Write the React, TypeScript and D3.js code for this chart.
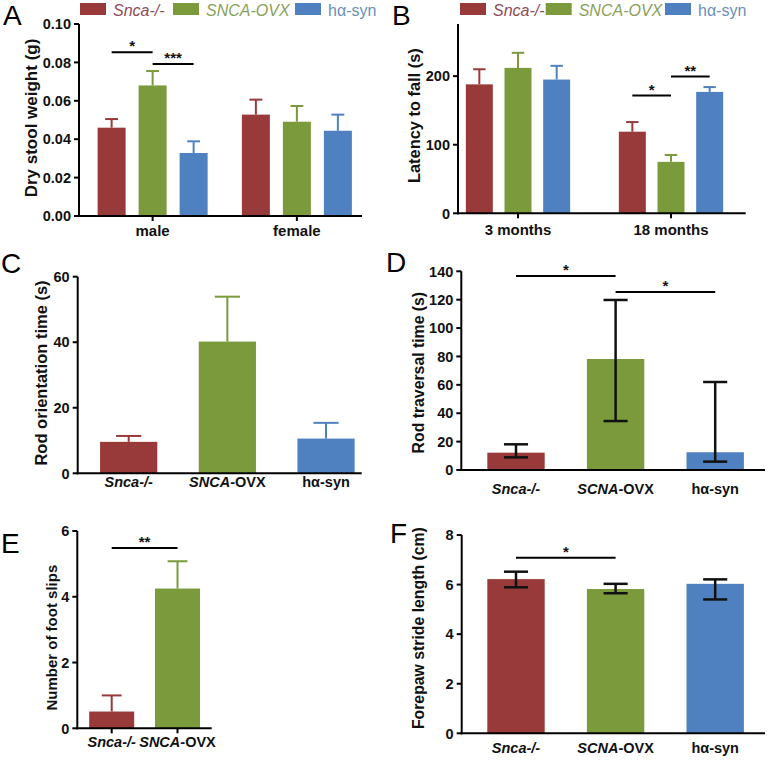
import React from "react";
import * as d3 from "d3";

// ---------- DATA ----------
const seriesNames = ["Snca-/-", "SNCA-OVX", "hα-syn"];

// Panel A: dry stool weight (g)
const sexGroups = ["male", "female"];
const stoolSnca = [0.046, 0.0528];
const stoolOvx = [0.068, 0.0491];
const stoolHsyn = [0.0328, 0.0444];
const stoolSncaErr = [0.0045, 0.0078];
const stoolOvxErr = [0.0075, 0.0082];
const stoolHsynErr = [0.0061, 0.0084];
const stoolTicks = [0, 0.02, 0.04, 0.06, 0.08, 0.1];
const stoolSig = [
  { from: 0, to: 1, y: 0.0853, label: "*" },
  { from: 1, to: 2, y: 0.0792, label: "***" },
];

// Panel B: latency to fall (s)
const ageGroups = ["3 months", "18 months"];
const latencySnca = [188, 119];
const latencyOvx = [212, 75];
const latencyHsyn = [195, 177];
const latencySncaErr = [22, 14];
const latencyOvxErr = [22, 10];
const latencyHsynErr = [20, 7];
const latencyTicks = [0, 100, 200];
const latencyMax = 276;
const latencySig = [
  { from: 3, to: 4, y: 171.7, label: "*" },
  { from: 4, to: 5, y: 199.4, label: "**" },
];

// Panel C: rod orientation time (s)
const orientCats = ["Snca-/-", "SNCA-OVX", "hα-syn"];
const orientMean = [9.6, 40.2, 10.6];
const orientErr = [1.8, 13.7, 4.8];
const orientTicks = [0, 20, 40, 60];

// Panel D: rod traversal time (s) (median with range)
const traversalCats = ["Snca-/-", "SCNA-OVX", "hα-syn"];
const traversalMedian = [12.2, 78.2, 12.5];
const traversalLow = [8.9, 34.5, 5.9];
const traversalHigh = [18.1, 119.8, 62];
const traversalTicks = [0, 20, 40, 60, 80, 100, 120, 140];
const traversalSig = [
  { from: 0, to: 1, y: 136.7, label: "*" },
  { from: 1, to: 2, y: 125.4, label: "*" },
];

// Panel E: number of foot slips
const slipCats = ["Snca-/-", "SNCA-OVX"];
const slipMean = [0.51, 4.25];
const slipErr = [0.49, 0.83];
const slipTicks = [0, 2, 4, 6];
const slipSig = [{ from: 0, to: 1, y: 5.48, label: "**" }];

// Panel F: forepaw stride length (cm)
const strideCats = ["Snca-/-", "SCNA-OVX", "hα-syn"];
const strideMean = [6.22, 5.82, 6.03];
const strideLow = [5.89, 5.65, 5.4];
const strideHigh = [6.52, 6.03, 6.21];
const strideTicks = [0, 2, 4, 6, 8];
const strideSig = [{ from: 0, to: 1, y: 7.08, label: "*" }];

// ---------- STYLE ----------
const FONT = "'Liberation Sans', Arial, Helvetica, sans-serif";
const BAR_COLORS = ["#993a3a", "#7a9a3c", "#4f81c0"];
const LEGEND_TEXT = ["#8c4b5b", "#8aa05a", "#6a8fb8"];

type Bar = {
  cx: number;
  w: number;
  value: number;
  hi: number;
  lo?: number;
  color: string;
  errColor: string;
  capW: number;
  errW: number;
};

function CatLabel({ text, x, y, size }: { text: string; x: number; y: number; size: number }) {
  const common = { x, y, textAnchor: "middle" as const, fontFamily: FONT, fontWeight: "bold", fontSize: size, fill: "#111" };
  if (text === "Snca-/-") return <text {...common} fontStyle="italic">{text}</text>;
  if (text.endsWith("-OVX")) {
    const pre = text.slice(0, text.length - 4);
    return (
      <text {...common}>
        <tspan fontStyle="italic">{pre}</tspan>-OVX
      </text>
    );
  }
  return <text {...common}>{text}</text>;
}

function Panel(props: {
  letter: string;
  letterX: number;
  letterY: number;
  y: d3.ScaleLinear<number, number>;
  yMax: number;
  axisX: number;
  axisEnd: number;
  ticks: number[];
  fmt: (v: number) => string;
  title: string;
  titleX: number;
  titleDy?: number;
  titleSize: number;
  bars: Bar[];
  xLabels: { text: string; x: number }[];
  xLabelY: number;
  xLabelSize: number;
  xTicks?: number[];
  sig: { from: number; to: number; y: number; label: string }[];
}) {
  const { y, axisX, axisEnd } = props;
  const y0 = y(0);
  const yTop = y(props.yMax);
  const midY = (y0 + yTop) / 2 + (props.titleDy || 0);
  return (
    <g>
      <text x={props.letterX} y={props.letterY} fontFamily={FONT} fontSize={28} fill="#000">
        {props.letter}
      </text>
      {props.bars.map((b, i) => (
        <g key={i}>
          <rect x={b.cx - b.w / 2} y={y(b.value)} width={b.w} height={y0 - y(b.value)} fill={b.color} />
          <line x1={b.cx} x2={b.cx} y1={y(b.lo ?? b.value)} y2={y(b.hi)} stroke={b.errColor} strokeWidth={b.errW} />
          <line x1={b.cx - b.capW / 2} x2={b.cx + b.capW / 2} y1={y(b.hi)} y2={y(b.hi)} stroke={b.errColor} strokeWidth={b.errW} />
          {b.lo !== undefined && (
            <line x1={b.cx - b.capW / 2} x2={b.cx + b.capW / 2} y1={y(b.lo)} y2={y(b.lo)} stroke={b.errColor} strokeWidth={b.errW} />
          )}
        </g>
      ))}
      {/* y axis */}
      <line x1={axisX} x2={axisX} y1={y0 + 1} y2={yTop} stroke="#000" strokeWidth={2} />
      {props.ticks.map((t) => (
        <g key={t}>
          <line x1={axisX - 5} x2={axisX} y1={y(t)} y2={y(t)} stroke="#000" strokeWidth={2} />
          <text x={axisX - 8} y={y(t)} dy="0.36em" textAnchor="end" fontFamily={FONT} fontWeight="bold" fontSize={14.5} fill="#111">
            {props.fmt(t)}
          </text>
        </g>
      ))}
      {/* x axis */}
      <line x1={axisX - 1} x2={axisEnd} y1={y0} y2={y0} stroke="#000" strokeWidth={2} />
      {(props.xTicks || []).map((t, i) => (
        <line key={i} x1={t} x2={t} y1={y0} y2={y0 + 5} stroke="#000" strokeWidth={2} />
      ))}
      {props.xLabels.map((l, i) => (
        <CatLabel key={i} text={l.text} x={l.x} y={props.xLabelY} size={props.xLabelSize} />
      ))}
      <text
        transform={`translate(${props.titleX},${midY}) rotate(-90)`}
        textAnchor="middle"
        fontFamily={FONT}
        fontWeight="bold"
        fontSize={props.titleSize}
        fill="#111"
      >
        {props.title}
      </text>
      {props.sig.map((s, i) => {
        const xa = props.bars[s.from].cx;
        const xb = props.bars[s.to].cx;
        return (
          <g key={i}>
            <line x1={xa} x2={xb} y1={y(s.y)} y2={y(s.y)} stroke="#000" strokeWidth={2} />
            <text x={(xa + xb) / 2} y={y(s.y) - 1} textAnchor="middle" fontFamily={FONT} fontWeight="bold" fontSize={15} fill="#111">
              {s.label}
            </text>
          </g>
        );
      })}
    </g>
  );
}

function Legend({ xs }: { xs: number[] }) {
  return (
    <g>
      {seriesNames.map((n, i) => (
        <g key={n}>
          <rect x={xs[i]} y={3} width={26} height={12} fill={BAR_COLORS[i]} />
          <text x={xs[i] + 33} y={15.5} fontFamily={FONT} fontSize={16} fill={LEGEND_TEXT[i]} fontStyle={i < 2 ? "italic" : "normal"}>
            {n}
          </text>
        </g>
      ))}
    </g>
  );
}

function groupedBars(
  groups: string[],
  gRange: [number, number],
  sRange: [number, number],
  pad: number,
  values: number[][],
  errs: number[][]
): { bars: Bar[]; centers: number[] } {
  const gx = d3.scaleBand().domain(groups).range(gRange);
  const sx = d3.scaleBand().domain(seriesNames).range(sRange).paddingInner(pad).paddingOuter(pad / 2);
  const bars: Bar[] = [];
  const centers: number[] = [];
  groups.forEach((g, gi) => {
    const gc = (gx(g) as number) + gx.bandwidth() / 2;
    centers.push(gc);
    seriesNames.forEach((s, si) => {
      const w = sx.bandwidth();
      bars.push({
        cx: gc + (sx(s) as number) + w / 2,
        w,
        value: values[si][gi],
        hi: values[si][gi] + errs[si][gi],
        color: BAR_COLORS[si],
        errColor: BAR_COLORS[si],
        capW: w * 0.46,
        errW: 2,
      });
    });
  });
  return { bars, centers };
}

function simpleBars(
  cats: string[],
  range: [number, number],
  pad: number,
  values: number[],
  hi: number[],
  lo: number[] | null,
  black: boolean
): Bar[] {
  const x = d3.scaleBand().domain(cats).range(range).paddingInner(pad).paddingOuter(pad / 2);
  const w = x.bandwidth();
  return cats.map((c, i) => ({
    cx: (x(c) as number) + w / 2,
    w,
    value: values[i],
    hi: hi[i],
    lo: lo ? lo[i] : undefined,
    color: BAR_COLORS[i],
    errColor: black ? "#111" : BAR_COLORS[i],
    capW: black ? w * 0.42 : w * 0.44,
    errW: black ? 2.5 : 2,
  }));
}

export default function App() {
  // A
  const yA = d3.scaleLinear().domain([0, 0.1]).range([216, 24]);
  const A = groupedBars(sexGroups, [80.5, 369], [-61.5, 61.5], 0.317,
    [stoolSnca, stoolOvx, stoolHsyn], [stoolSncaErr, stoolOvxErr, stoolHsynErr]);
  // B
  const yB = d3.scaleLinear().domain([0, latencyMax]).range([213.3, 24]);
  const B = groupedBars(ageGroups, [441.5, 747.5], [-58, 58], 0.302,
    [latencySnca, latencyOvx, latencyHsyn], [latencySncaErr, latencyOvxErr, latencyHsynErr]);
  // C
  const yC = d3.scaleLinear().domain([0, 60]).range([473.3, 276.7]);
  const C = simpleBars(orientCats, [79.35, 375.35], 0.42, orientMean,
    orientMean.map((m, i) => m + orientErr[i]), null, false);
  // D
  const yD = d3.scaleLinear().domain([0, 140]).range([470, 271.3]);
  const D = simpleBars(traversalCats, [466.2, 765], 0.424, traversalMedian, traversalHigh, traversalLow, true);
  // E
  const yE = d3.scaleLinear().domain([0, 6]).range([728.3, 531]);
  const E = simpleBars(slipCats, [78.8, 210.4], 0.316, slipMean,
    slipMean.map((m, i) => m + slipErr[i]), null, false);
  // F
  const yF = d3.scaleLinear().domain([0, 8]).range([733.3, 535]);
  const F = simpleBars(strideCats, [466.2, 765], 0.424, strideMean, strideHigh, strideLow, true);

  const f2 = d3.format(".2f");
  const f0 = d3.format("d");

  return (
    <svg width={768} height={760} style={{ position: "absolute", left: 0, top: 0, background: "#fff" }}>
      <rect width={768} height={760} fill="#fff" />
      <Legend xs={[80, 173, 295]} />
      <Legend xs={[460, 545.7, 665]} />
      <Panel
        letter="A" letterX={3} letterY={25} y={yA} yMax={0.1} axisX={79} axisEnd={362}
        ticks={stoolTicks} fmt={f2} title="Dry stool weight (g)" titleX={37} titleDy={-2} titleSize={17}
        bars={A.bars} xLabels={sexGroups.map((g, i) => ({ text: g, x: A.centers[i] }))}
        xLabelY={236} xLabelSize={15} xTicks={A.centers} sig={stoolSig}
      />
      <Panel
        letter="B" letterX={392} letterY={25} y={yB} yMax={latencyMax} axisX={458} axisEnd={745.7}
        ticks={latencyTicks} fmt={f0} title="Latency to fall (s)" titleX={420} titleDy={-3} titleSize={16.4}
        bars={B.bars} xLabels={ageGroups.map((g, i) => ({ text: g, x: B.centers[i] }))}
        xLabelY={235} xLabelSize={15} xTicks={B.centers} sig={latencySig}
      />
      <Panel
        letter="C" letterX={1} letterY={273} y={yC} yMax={60} axisX={77.7} axisEnd={361.7}
        ticks={orientTicks} fmt={f0} title="Rod orientation time (s)" titleX={47} titleDy={-2} titleSize={16.5}
        bars={C} xLabels={orientCats.map((c, i) => ({ text: c, x: C[i].cx }))}
        xLabelY={487} xLabelSize={14.5} sig={[]}
      />
      <Panel
        letter="D" letterX={386} letterY={272} y={yD} yMax={140} axisX={461.3} axisEnd={765}
        ticks={traversalTicks} fmt={f0} title="Rod traversal time (s)" titleX={424} titleDy={2} titleSize={15.8}
        bars={D} xLabels={traversalCats.map((c, i) => ({ text: c, x: D[i].cx }))}
        xLabelY={494} xLabelSize={14.5} sig={traversalSig}
      />
      <Panel
        letter="E" letterX={1} letterY={553} y={yE} yMax={6} axisX={77.3} axisEnd={211.7}
        ticks={slipTicks} fmt={f0} title="Number of foot slips" titleX={57} titleDy={8} titleSize={15}
        bars={E} xLabels={slipCats.map((c, i) => ({ text: c, x: E[i].cx }))}
        xLabelY={747} xLabelSize={14.5} xTicks={E.map((b) => b.cx)} sig={slipSig}
      />
      <Panel
        letter="F" letterX={390} letterY={543} y={yF} yMax={8} axisX={461.7} axisEnd={765}
        ticks={strideTicks} fmt={f0} title="Forepaw stride length (cm)" titleX={424} titleDy={-6} titleSize={15.8}
        bars={F} xLabels={strideCats.map((c, i) => ({ text: c, x: F[i].cx }))}
        xLabelY={753} xLabelSize={14.5} sig={strideSig}
      />
    </svg>
  );
}
